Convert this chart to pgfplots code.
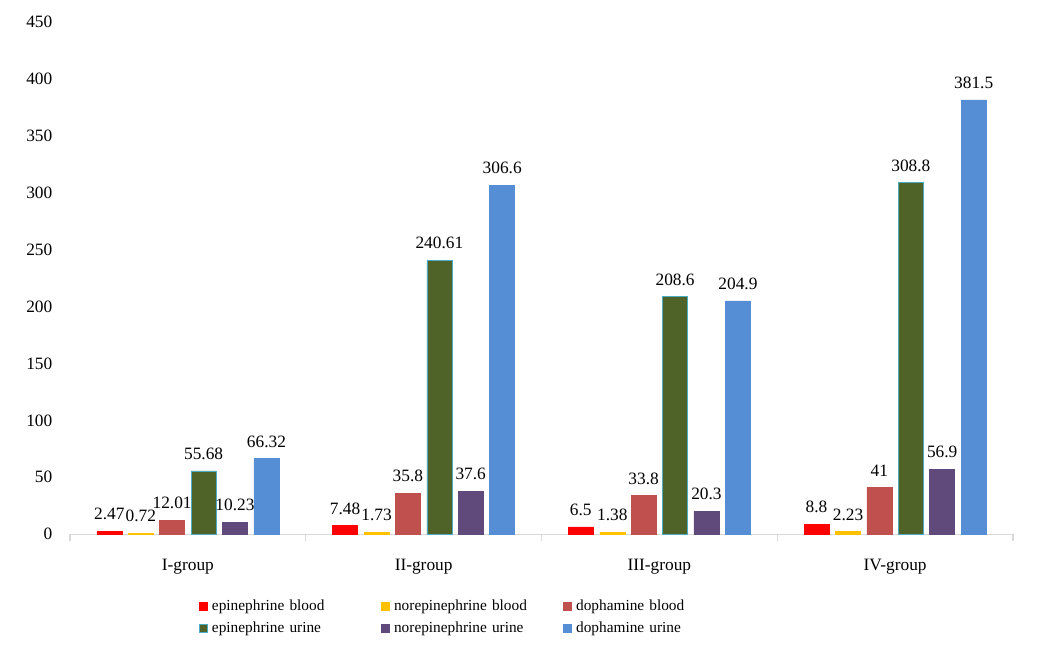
\documentclass[border=0pt]{standalone}
\usepackage{pgfplots}
\pgfplotsset{compat=1.18}
\usepackage{fontspec}
\setmainfont{Liberation Serif}
\definecolor{cEb}{HTML}{FF0000}
\definecolor{cNb}{HTML}{FFC000}
\definecolor{cDb}{HTML}{C0504D}
\definecolor{cEu}{HTML}{4F6228}
\definecolor{cEuB}{HTML}{4BACC6}
\definecolor{cNu}{HTML}{604A7B}
\definecolor{cDu}{HTML}{558ED5}
\definecolor{axgray}{HTML}{D9D9D9}
\begin{document}
\begin{tikzpicture}
\begin{axis}[
    width=707pt, height=384pt, scale only axis,
    xmin=-0.5, xmax=3.5, ymin=0, ymax=450,
    ybar, bar width=18.75pt,
    axis x line*=bottom, axis y line*=left,
    x axis line style={-, draw=axgray, line width=0.8pt},
    y axis line style={draw=none},
    xtick={0,1,2,3},
    xticklabels={I-group, II-group, III-group, IV-group},
    minor xtick={-0.5,0.5,1.5,2.5,3.5},
    major x tick style={draw=none},
    minor x tick style={draw=axgray, line width=0.8pt},
    tick align=outside, minor tick length=5pt,
    ytick={0,50,...,450},
    major y tick style={draw=none},
    ticklabel style={font=\fontsize{13}{15}\selectfont},
    xticklabel style={yshift=-11pt},
    yticklabel style={xshift=-5.5pt},
    /pgf/number format/assume math mode=true,
    /pgf/number format/fixed,
    /pgf/number format/precision=2,
    nodes near coords,
    every node near coord/.append style={font=\fontsize{13}{15}\selectfont, yshift=5pt},
    clip=false,
    legend columns=3,
    legend style={at={(rel axis cs:0.1326,-0.12)}, anchor=north west,
        draw=none, font=\fontsize{11.5}{13}\selectfont,
        nodes={text width=126pt, align=left, inner sep=1pt},
        /tikz/every even column/.append style={column sep=0pt},
        /tikz/every odd column/.append style={column sep=2.5pt},
        row sep=5pt},
    legend image code/.code={\draw[#1] (0pt,-3pt) rectangle (5.6pt,3pt);},
]
\addplot[fill=cEb, draw=cEb, bar shift=-58.9pt] coordinates {(0,2.47) (1,7.48) (2,6.5) (3,8.8)};
\addlegendentry{epinephrine blood}
\addplot[fill=cNb, draw=cNb, bar shift=-35.3pt] coordinates {(0,0.72) (1,1.73) (2,1.38) (3,2.23)};
\addlegendentry{norepinephrine blood}
\addplot[fill=cDb, draw=cDb, bar shift=-11.8pt] coordinates {(0,12.01) (1,35.8) (2,33.8) (3,41)};
\addlegendentry{dophamine blood}
\addplot[fill=cEu, draw=cEuB, bar shift=11.8pt] coordinates {(0,55.68) (1,240.61) (2,208.6) (3,308.8)};
\addlegendentry{epinephrine urine}
\addplot[fill=cNu, draw=cNu, bar shift=35.3pt] coordinates {(0,10.23) (1,37.6) (2,20.3) (3,56.9)};
\addlegendentry{norepinephrine urine}
\addplot[fill=cDu, draw=cDu, bar shift=58.9pt] coordinates {(0,66.32) (1,306.6) (2,204.9) (3,381.5)};
\addlegendentry{dophamine urine}
\coordinate (bl) at (rel axis cs:0,0);
\coordinate (tr) at (rel axis cs:1,1);
\end{axis}
\path (bl) ++(-52.5pt,-87pt);
\path (tr) ++(21pt,16.5pt);
\end{tikzpicture}
\end{document}
